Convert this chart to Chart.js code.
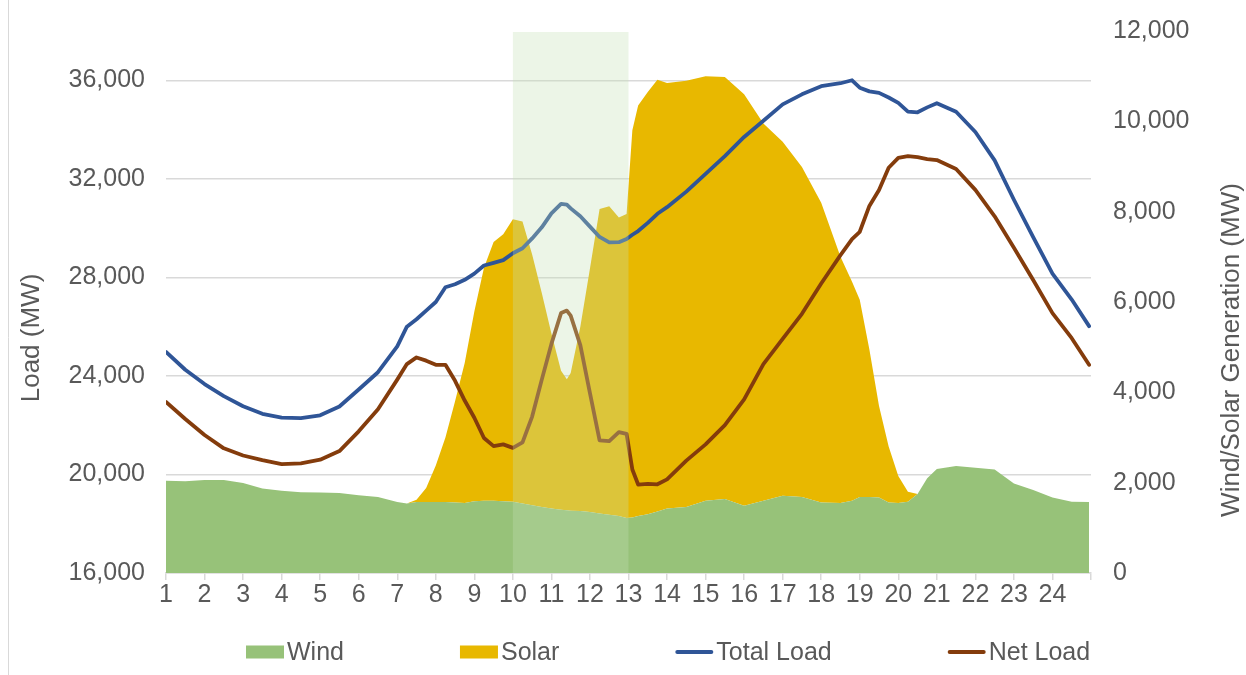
<!DOCTYPE html>
<html>
<head>
<meta charset="utf-8">
<script src="https://cdn.jsdelivr.net/npm/chart.js@4.4.0/dist/chart.umd.min.js"></script>
<style>
  html, body { margin: 0; padding: 0; background: #ffffff; }
  #wrap { position: relative; width: 1246px; height: 675px; }
</style>
</head>
<body>
<div id="wrap"><canvas id="chart" width="1246" height="675"></canvas></div>
<script>
// hour of day (1 = 1:00 ... 25 = end of day)
const hours = [
    1, 1.5, 2, 2.5, 3, 3.5, 4, 4.5, 5, 5.5, 6, 6.5, 7,
    7.25, 7.5, 7.75, 8, 8.25, 8.5, 8.75, 9, 9.25, 9.5, 9.75, 10, 10.25, 10.5, 10.75, 11, 11.25,
    11.4, 11.5, 11.75, 12, 12.25, 12.5, 12.75,
    12.95, 13.1, 13.25, 13.5, 13.75, 14,
    14.5, 15, 15.5, 16, 16.5, 17, 17.5, 18, 18.5,
    18.8, 19, 19.25, 19.5, 19.75, 20, 20.25, 20.5, 20.75, 21,
    21.5, 22, 22.5, 23, 23.5, 24, 24.5, 24.95
];

// MW, left axis
const totalLoad = [
    24970, 24250, 23670, 23180, 22770, 22460, 22310, 22290, 22400, 22760, 23450, 24150, 25200,
    26000, 26300, 26650, 27000, 27600, 27720, 27900, 28150, 28480, 28590, 28700, 28980, 29180, 29580, 30030, 30600, 30980,
    30950, 30800, 30480, 30060, 29640, 29420, 29430,
    29560, 29730, 29880, 30210, 30580, 30850,
    31480, 32200, 32920, 33700, 34360, 35020, 35430, 35760, 35880,
    36000, 35700, 35550, 35490, 35300, 35080, 34730, 34700, 34900, 35070,
    34720, 33900, 32750, 31150, 29630, 28150, 27100, 26020
];

const netLoad = [
    22940, 22250, 21600, 21060, 20770, 20580, 20420, 20450, 20600, 20950, 21750, 22650, 23850,
    24480, 24750, 24620, 24450, 24450, 23800, 23000, 22300, 21480, 21150, 21220, 21080, 21300, 22350, 23850, 25300, 26550,
    26650, 26450, 25250, 23300, 21380, 21350, 21720,
    21650, 20200, 19590, 19620, 19600, 19800,
    20560, 21220, 22000, 23050, 24480, 25500, 26520, 27750, 28900,
    29550, 29850, 30900, 31550, 32450, 32850, 32920, 32880, 32800, 32760,
    32400, 31550, 30480, 29200, 27890, 26550, 25530, 24450
];

// MW, right axis (stacked areas)
const wind = [
    2040, 2030, 2060, 2060, 1990, 1870, 1820, 1790, 1780, 1770, 1720, 1680, 1570,
    1540, 1570, 1570, 1570, 1570, 1560, 1550, 1590, 1600, 1600, 1590, 1580, 1540, 1500, 1460, 1430, 1400,
    1390, 1380, 1370, 1350, 1320, 1290, 1260,
    1220, 1230, 1260, 1300, 1360, 1430,
    1460, 1600, 1640, 1490, 1600, 1710, 1680, 1560, 1550,
    1600, 1680, 1680, 1670, 1560, 1550, 1580, 1750, 2100, 2300,
    2370, 2330, 2290, 1980, 1840, 1670, 1580, 1570
];

const solar = [
    0, 0, 0, 0, 0, 0, 0, 0, 0, 0, 0, 0, 0,
    0, 50, 310, 810, 1430, 2240, 3100, 4200, 5160, 5730, 5910, 6250, 6240, 5550, 4740, 3870, 3080,
    2900, 3050, 4080, 5390, 6740, 6830, 6610,
    6730, 8570, 9090, 9350, 9560, 9420,
    9440, 9400, 9340, 9110, 8350, 7840, 7310, 6640, 5450,
    4850, 4370, 3270, 2030, 1240, 600, 220, 0, 0, 0,
    0, 0, 0, 0, 0, 0, 0, 0
];

const xTicks = [1, 2, 3, 4, 5, 6, 7, 8, 9, 10, 11, 12, 13, 14, 15, 16, 17, 18, 19, 20, 21, 22, 23, 24];
const loadTicks = [16000, 20000, 24000, 28000, 32000, 36000];
const genTicks = [0, 2000, 4000, 6000, 8000, 10000, 12000];
const highlightHours = [10, 13];

const FONT = "'Liberation Sans', Arial, sans-serif";
const TXT = '#595959';
const GRID = '#d9d9d9';

// shaded window from 10 to 13, drawn over the series
const highlightBand = {
    id: 'highlightBand',
    afterDatasetsDraw(chart) {
        const {ctx, chartArea, scales} = chart;
        const x0 = scales.x.getPixelForValue(highlightHours[0]);
        const x1 = scales.x.getPixelForValue(highlightHours[1]);
        ctx.save();
        ctx.fillStyle = 'rgba(197, 224, 180, 0.32)';
        ctx.fillRect(x0, chartArea.top + 1, x1 - x0, chartArea.bottom - chartArea.top - 1);
        ctx.restore();
    }
};

// axis titles, both reading bottom to top as in the original, plus the frame edge
const axisTitles = {
    id: 'axisTitles',
    afterDraw(chart) {
        const ctx = chart.ctx;
        ctx.save();
        ctx.strokeStyle = GRID;
        ctx.lineWidth = 1;
        ctx.beginPath();
        ctx.moveTo(8.5, 0);
        ctx.lineTo(8.5, chart.height);
        ctx.stroke();
        ctx.font = '26px ' + FONT;
        ctx.fillStyle = TXT;
        ctx.textAlign = 'center';
        ctx.textBaseline = 'middle';
        [['Load (MW)', 32, 338], ['Wind/Solar Generation (MW)', 1232, 350]].forEach(([t, x, y]) => {
            ctx.save();
            ctx.translate(x, y);
            ctx.rotate(-Math.PI / 2);
            ctx.fillText(t, 0, 0);
            ctx.restore();
        });
        ctx.restore();
    }
};

// legend like the Excel one: wide gaps between items
const wideLegend = {
    id: 'wideLegend',
    afterDraw(chart) {
        const ctx = chart.ctx;
        const markW = 38, markH = 13, textGap = 3, itemGap = 116;
        let x = 246;
        const y = 652;
        ctx.save();
        ctx.font = '25px ' + FONT;
        ctx.textBaseline = 'middle';
        chart.data.datasets.forEach(ds => {
            if (ds.fill) {
                ctx.fillStyle = ds.backgroundColor;
                ctx.fillRect(x, y - markH / 2, markW, markH);
            } else {
                ctx.strokeStyle = ds.borderColor;
                ctx.lineWidth = 4;
                ctx.lineCap = 'round';
                ctx.beginPath();
                ctx.moveTo(x + 2, y);
                ctx.lineTo(x + markW - 2, y);
                ctx.stroke();
            }
            x += markW + textGap;
            ctx.fillStyle = TXT;
            ctx.fillText(ds.label, x, y + 1);
            x += ctx.measureText(ds.label).width + itemGap;
        });
        ctx.restore();
    }
};

new Chart(document.getElementById('chart'), {
    type: 'line',
    data: {
        labels: hours,
        datasets: [
            {
                label: 'Wind',
                data: wind,
                yAxisID: 'y1',
                stack: 'gen',
                fill: 'origin',
                backgroundColor: '#97C279',
                borderColor: 'rgba(0,0,0,0)',
                borderWidth: 0,
                order: 3
            },
            {
                label: 'Solar',
                data: solar,
                yAxisID: 'y1',
                stack: 'gen',
                fill: '-1',
                backgroundColor: '#E8B800',
                borderColor: 'rgba(0,0,0,0)',
                borderWidth: 0,
                order: 4
            },
            {
                label: 'Total Load',
                data: totalLoad,
                yAxisID: 'y',
                fill: false,
                borderColor: '#2F5597',
                backgroundColor: '#2F5597',
                borderWidth: 3.8,
                order: 2
            },
            {
                label: 'Net Load',
                data: netLoad,
                yAxisID: 'y',
                fill: false,
                borderColor: '#843C0C',
                backgroundColor: '#843C0C',
                borderWidth: 3.8,
                order: 1
            }
        ]
    },
    options: {
        responsive: false,
        animation: false,
        devicePixelRatio: 1,
        elements: {
            point: { radius: 0, hoverRadius: 0 },
            line: { tension: 0, borderJoinStyle: 'round', borderCapStyle: 'round' }
        },
        layout: { padding: { left: 10, right: 0, top: 31, bottom: 62 } },
        plugins: {
            legend: { display: false },
            tooltip: { enabled: false }
        },
        scales: {
            x: {
                type: 'linear',
                min: 1,
                max: 25,
                afterFit: s => { s.height = 40; },
                afterBuildTicks: s => {
                    s.ticks = xTicks.concat([25]).map(v => ({ value: v }));
                },
                ticks: {
                    autoSkip: false,
                    maxRotation: 0,
                    padding: 0,
                    color: TXT,
                    font: { family: FONT, size: 25 },
                    callback: v => (xTicks.includes(v) ? String(v) : '')
                },
                grid: {
                    drawOnChartArea: false,
                    drawTicks: true,
                    tickLength: 7,
                    color: GRID,
                    lineWidth: 1.5
                },
                border: { display: true, color: GRID, width: 1.5 }
            },
            y: {
                position: 'left',
                min: 16000,
                max: 38000,
                afterFit: s => { s.width = 156; },
                afterBuildTicks: s => { s.ticks = loadTicks.map(v => ({ value: v })); },
                ticks: {
                    padding: 0,
                    color: TXT,
                    font: { family: FONT, size: 25 },
                    callback: v => v.toLocaleString('en-US')
                },
                grid: { color: GRID, lineWidth: 1.5, drawTicks: true, tickLength: 21, tickColor: 'rgba(0,0,0,0)' },
                border: { display: false }
            },
            y1: {
                position: 'right',
                stacked: true,
                min: 0,
                max: 12000,
                afterFit: s => { s.width = 155; },
                afterBuildTicks: s => { s.ticks = genTicks.map(v => ({ value: v })); },
                ticks: {
                    padding: 0,
                    color: TXT,
                    font: { family: FONT, size: 25 },
                    callback: v => v.toLocaleString('en-US')
                },
                grid: { drawOnChartArea: false, drawTicks: true, tickLength: 22, tickColor: 'rgba(0,0,0,0)' },
                border: { display: false }
            }
        }
    },
    plugins: [highlightBand, axisTitles, wideLegend]
});
</script>
</body>
</html>
